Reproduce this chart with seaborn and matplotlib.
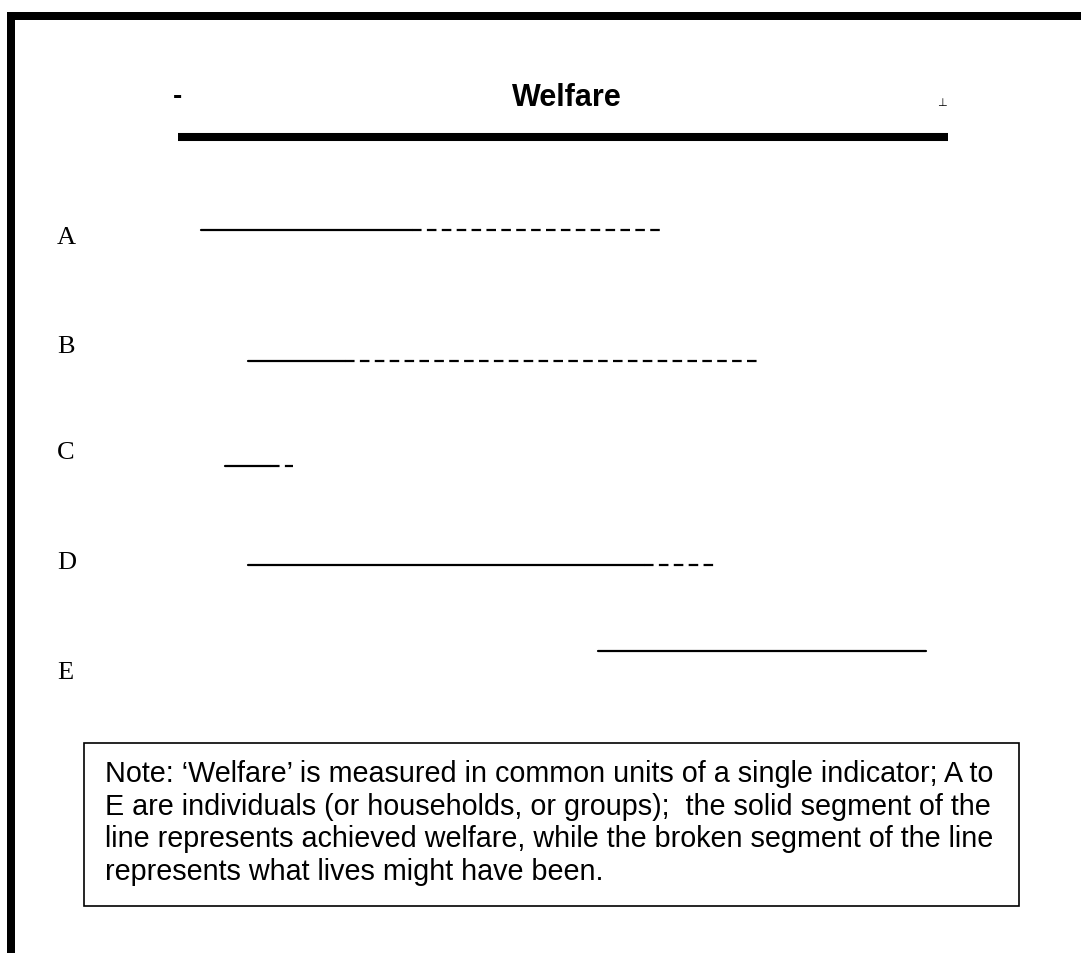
import numpy as np
import pandas as pd
import matplotlib.pyplot as plt
import seaborn as sns
from matplotlib.patches import Rectangle

# welfare values (0 = left end of the welfare bar, 100 = right end)
people = ['A', 'B', 'C', 'D', 'E']
start = [3.0, 9.1, 6.1, 9.1, 54.5]
achieved = [30.4, 21.7, 11.9, 60.5, 97.1]
potential = [63.0, 75.2, 14.9, 70.1, 97.1]

note_lines = [
    'Note: \u2018Welfare\u2019 is measured in common units of a single indicator; A to',
    'E are individuals (or households, or groups);  the solid segment of the',
    'line represents achieved welfare, while the broken segment of the line',
    'represents what lives might have been.',
]

# layout (pixel rows of the figure)
line_y = [231, 362, 467, 566, 652]
label_y = [238, 347, 453, 563, 673]

sns.set_theme(style='white')
plt.rcParams['font.family'] = ['Liberation Sans', 'DejaVu Sans']
plt.rcParams['text.color'] = 'black'

W, H = 1081, 954
fig = plt.figure(figsize=(W / 100, H / 100), dpi=100)

# background layer in pixel coordinates
bg = fig.add_axes([0, 0, 1, 1])
bg.set_xlim(0, W)
bg.set_ylim(H, 0)
bg.axis('off')
bg.add_patch(Rectangle((7, 13), W - 7, 8, color='black', lw=0))
bg.add_patch(Rectangle((7, 13), 8, H - 13, color='black', lw=0))

bg.text(567, 106, 'Welfare', ha='center', va='baseline', fontsize=22, fontweight='bold')
bg.text(178, 104, '-', ha='center', va='baseline', fontsize=20, fontweight='bold')
bg.text(942, 106, '\u22a5', ha='center', va='baseline', fontsize=8, family='DejaVu Sans')

for name, y in zip(people, label_y):
    bg.text(57, y, name, ha='left', va='center', fontsize=19, family='Liberation Serif')

bg.add_patch(Rectangle((84, 744), 935, 163, fill=False, ec='black', lw=1.2))
for i, txt in enumerate(note_lines):
    bg.text(105, 782 + i * 32.7, txt, ha='left', va='baseline', fontsize=20.7)

# welfare axis layer: x in welfare units
ax = fig.add_axes([178 / W, 0, 770 / W, 1])
ax.patch.set_alpha(0)
ax.hlines(138, 0, 100, color='black', lw=5.8)

rows = []
for name, y, s, a, p in zip(people, line_y, start, achieved, potential):
    rows.append((name + '_a', 'achieved', s, y))
    rows.append((name + '_a', 'achieved', a, y))
    if p > a:
        rows.append((name + '_p', 'potential', a, y))
        rows.append((name + '_p', 'potential', p, y))
df = pd.DataFrame(rows, columns=['key', 'segment', 'welfare', 'ypos'])

sns.lineplot(data=df, x='welfare', y='ypos', units='key', estimator=None,
             style='segment', dashes={'achieved': '', 'potential': (4.3, 2.4)},
             color='black', lw=1.6, sort=False, legend=False, ax=ax)
ax.set_xlim(0, 100)
ax.set_ylim(H, 0)
ax.axis('off')

fig.savefig('out.png', dpi=100)
